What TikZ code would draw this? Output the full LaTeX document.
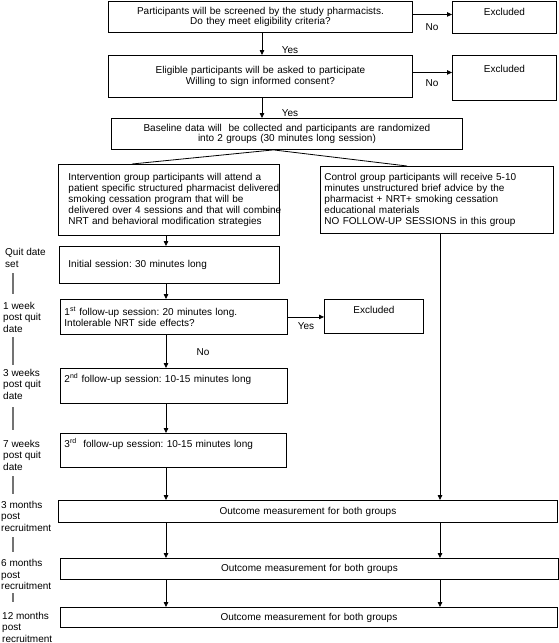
\documentclass[tikz,border=0pt]{standalone}
\usepackage{fontspec}
\setmainfont{Liberation Sans}
\usetikzlibrary{arrows.meta}
\frenchspacing
\begin{document}
\begin{tikzpicture}[x=1pt,y=-1pt,
  font=\fontsize{10}{10.8}\selectfont,
  box/.style={draw, line width=0.9pt, inner sep=0pt, anchor=north west},
  cbox/.style={box, align=center},
  lbox/.style={box, align=left},
  arr/.style={-{Triangle[length=5pt,width=4.5pt]}, line width=0.8pt},
  ln/.style={line width=0.8pt},
  lbl/.style={inner sep=0pt},
  tl/.style={inner sep=0pt, anchor=west, align=left, font=\fontsize{10}{11.5}\selectfont},
  bar/.style={line width=1.2pt, black!55}]
\useasboundingbox[fill=white] (0,0) rectangle (559,643);

% main column
\node[cbox, text width=304pt, minimum height=31pt] (box1) at (108,1)
  {Participants will be screened by the study pharmacists.\\Do they meet eligibility criteria?};
\node[cbox, text width=104pt, minimum height=32pt] (ex1) at (452,1) {Excluded\\\mbox{}};
\node[cbox, text width=304pt, minimum height=42pt] (box2) at (108,55)
  {Eligible participants will be asked to participate\\Willing to sign informed consent?};
\node[cbox, text width=104pt, minimum height=45pt] (ex2) at (452,55) {Excluded\\[8pt]\mbox{}};
\node[cbox, text width=351pt, minimum height=31pt] (box3) at (111,118)
  {Baseline data will~ be collected and participants are randomized\\into 2 groups (30 minutes long session)};

\node[lbox, text width=221pt, minimum height=71pt] (interv) at (58,164)
  {\leftskip=10pt\rightskip=-8pt plus 1fil\hyphenpenalty=10000 Intervention group participants will attend a\\patient specific structured pharmacist delivered\\smoking cessation program that will be\\delivered over 4 sessions and that will combine\\NRT and behavioral modification strategies\par};
\node[lbox, text width=233pt, minimum height=67pt] (ctrl) at (320,166)
  {\leftskip=4pt Control group participants will receive 5-10\\minutes unstructured brief advice by the\\pharmacist + NRT+ smoking cessation\\educational materials\\NO FOLLOW-UP SESSIONS in this group\par};

\node[lbox, text width=220pt, minimum height=37pt] (init) at (59,246)
  {\leftskip=9pt Initial session: 30 minutes long\par};
\node[lbox, text width=227pt, minimum height=35pt] (fu1) at (60,299)
  {\leftskip=4pt 1\textsuperscript{st} follow-up session: 20 minutes long.\\Intolerable NRT side effects?\par};
\node[cbox, text width=99pt, minimum height=34pt] (ex3) at (324,299) {Excluded\\[3pt]\mbox{}};
\node[lbox, text width=227pt, minimum height=35pt] (fu2) at (60,368)
  {\leftskip=4pt 2\textsuperscript{nd} follow-up session: 10-15 minutes long\\[5pt]\mbox{}\par};
\node[lbox, text width=226pt, minimum height=34pt] (fu3) at (60,433)
  {\leftskip=4pt 3\textsuperscript{rd}~ follow-up session: 10-15 minutes long\\[4pt]\mbox{}\par};

\node[cbox, text width=499pt, minimum height=22pt] (out1) at (58,500) {Outcome measurement for both groups};
\node[cbox, text width=498pt, minimum height=21pt] (out2) at (60,558) {Outcome measurement for both groups};
\node[cbox, text width=497pt, minimum height=20pt] (out3) at (60,607) {Outcome measurement for both groups};

% columns
\coordinate (cA) at (262,0);
\coordinate (cB) at (166,0);
\coordinate (cC) at (440,0);

% connectors
\draw[arr] (box1.south -| cA) -- (box2.north -| cA);
\draw[arr] (box2.south -| cA) -- (box3.north -| cA);
\draw[arr] ([yshift=2.5pt]box1.east) -- ([yshift=2.5pt]box1.east -| ex1.west);
\draw[arr] ([yshift=4pt]box2.east) -- ([yshift=4pt]box2.east -| ex2.west);
\draw[ln] ([xshift=-13.5pt]box3.south) -- ([xshift=74pt]interv.north west);
\draw[ln] ([xshift=-13.5pt]box3.south) -- ([xshift=87pt]ctrl.north west);
\draw[arr] (interv.south -| cB) -- (init.north -| cB);
\draw[arr] (init.south -| cB) -- (fu1.north -| cB);
\draw[arr] (fu1.south -| cB) -- (fu2.north -| cB);
\draw[arr] (fu2.south -| cB) -- (fu3.north -| cB);
\draw[arr] (fu3.south -| cB) -- (out1.north -| cB);
\draw[arr] (out1.south -| cB) -- (out2.north -| cB);
\draw[arr] (out2.south -| cB) -- (out3.north -| cB);
\draw[arr] (fu1.east) -- (ex3.west |- fu1.east);
\draw[arr] (ctrl.south -| cC) -- (out1.north -| cC);
\draw[arr] (out1.south -| cC) -- (out2.north -| cC);
\draw[arr] (out2.south -| cC) -- (out3.north -| cC);

% connector labels
\node[lbl] (yes1) at (290,50) {Yes};
\node[lbl] (yes2) at (290,113) {Yes};
\node[lbl] (no1) at (432,27) {No};
\node[lbl] (no2) at (432,83) {No};
\node[lbl] (no3) at (203,352) {No};
\node[lbl] (yes3) at (306,326) {Yes};

% timeline
\node[tl] (t0) at (5,258) {Quit date\\set};
\node[tl] (t1) at (3,317) {1 week\\post quit\\date};
\node[tl] (t2) at (3,384) {3 weeks\\post quit\\date};
\node[tl] (t3) at (3,455) {7 weeks\\post quit\\date};
\node[tl] (t4) at (1,516) {3 months\\post\\recruitment};
\node[tl] (t5) at (1,574.5) {6 months\\post\\recruitment};
\node[tl] (t6) at (2,627) {12 months\\post\\recruitment};
\draw[bar] (13,273) -- (13,294);
\draw[bar] (13,337) -- (13,365);
\draw[bar] (13,407) -- (13,430);
\draw[bar] (13,476) -- (13,494);
\draw[bar] (13,537) -- (13,552);
\draw[bar] (13,593) -- (13,602);
\end{tikzpicture}
\end{document}
